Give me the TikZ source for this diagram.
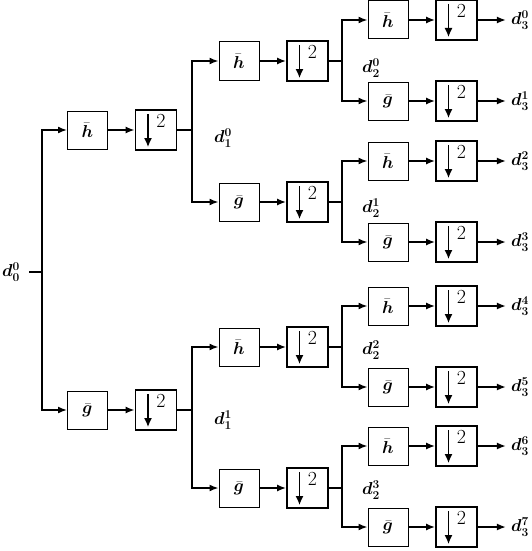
\documentclass[tikz,border=0pt]{standalone}
\usepackage{amsmath,bm}
\usetikzlibrary{arrows.meta}
\begin{document}
\begin{tikzpicture}[x=1pt,y=-1pt,
 filt/.style={draw, line width=1pt, minimum width=40pt, minimum height=38pt, inner sep=0pt, font=\fontsize{18}{18}\selectfont},
 dsbox/.style={draw, line width=1.8pt, minimum width=41pt, minimum height=40pt, inner sep=0pt,
   path picture={
     \draw[line width=1.3pt,-{Latex[length=9pt,width=8pt]}] ([xshift=-8pt,yshift=16pt]path picture bounding box.center) -- ([xshift=-8pt,yshift=-17pt]path picture bounding box.center);
     \node[font=\fontsize{20}{20}\selectfont, inner sep=0pt] at ([xshift=5pt,yshift=9pt]path picture bounding box.center) {2};
   }},
 lbl/.style={font=\fontsize{18}{18}\selectfont, inner sep=0pt},
 conn/.style={line width=1.6pt},
 arr/.style={conn, -{Latex[length=9pt,width=7pt]}}]
\useasboundingbox (0,0) rectangle (532,551);

% level 1
\foreach \y/\n/\t in {130/a/h, 410/b/g}{
  \node[filt] (f1\n) at (87.5,\y) {$\bar{\bm{\t}}$};
  \node[dsbox] (d1\n) at (156,\y) {};
}
% level 2
\foreach \y/\n/\t in {61/a/h, 202/b/g, 347/c/h, 488/d/g}{
  \node[filt] (f2\n) at (239,\y) {$\bar{\bm{\t}}$};
  \node[dsbox] (d2\n) at (307.5,\y) {};
}
% level 3
\foreach \y/\n/\t/\k in {20/a/h/0, 101/b/g/1, 161/c/h/2, 242/d/g/3, 306/e/h/4, 387/f/g/5, 446/g/h/6, 527/h/g/7}{
  \node[filt] (f3\n) at (388,\y) {$\bar{\bm{\t}}$};
  \node[dsbox] (d3\n) at (456.5,\y) {};
  \node[lbl] (l3\n) at (520,\y) {$\bm{d_3^{\k}}$};
  \draw[arr] (f3\n) -- (d3\n);
  \draw[arr, shorten >=5pt] (d3\n) -- (l3\n);
}

% input
\node[lbl] (d00) at (11,272) {$\bm{d_0^0}$};
\coordinate (s0) at (42,272);
\draw[conn] ([xshift=9pt]d00.east) -- (s0);
\draw[arr] (s0) |- (f1a);
\draw[arr] (s0) |- (f1b);
\draw[arr] (f1a) -- (d1a);
\draw[arr] (f1b) -- (d1b);

% level 1 splits
\coordinate (s1a) at (192,130);
\coordinate (s1b) at (192,410);
\draw[conn] (d1a) -- (s1a);
\draw[conn] (d1b) -- (s1b);
\draw[arr] (s1a) |- (f2a);
\draw[arr] (s1a) |- (f2b);
\draw[arr] (s1b) |- (f2c);
\draw[arr] (s1b) |- (f2d);
\foreach \n in {a,b,c,d}{ \draw[arr] (f2\n) -- (d2\n); }
\node[lbl] (l1a) at (223,138) {$\bm{d_1^0}$};
\node[lbl] (l1b) at (223,420) {$\bm{d_1^1}$};

% level 2 splits
\foreach \n/\y/\p/\q/\k/\ly in {a/61/a/b/0/68, b/202/c/d/1/208, c/347/e/f/2/350, d/488/g/h/3/490}{
  \coordinate (s2\n) at (342,\y);
  \draw[conn] (d2\n) -- (s2\n);
  \draw[arr] (s2\n) |- (f3\p);
  \draw[arr] (s2\n) |- (f3\q);
  \node[lbl] (l2\n) at (371,\ly) {$\bm{d_2^{\k}}$};
}
\end{tikzpicture}
\end{document}
